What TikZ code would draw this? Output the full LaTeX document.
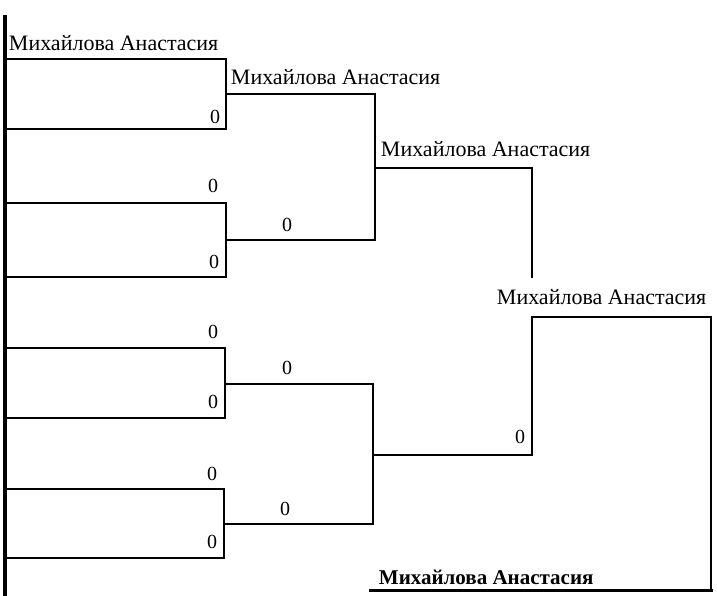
\documentclass[tikz,border=0pt]{standalone}
\usepackage{fontspec}
\setmainfont{Liberation Serif}
\begin{document}
\begin{tikzpicture}[x=1pt,y=-1pt,line width=1.9pt,line cap=rect,
  lbl/.style={anchor=base west,inner sep=0pt,font=\fontsize{22}{24}\selectfont},
  num/.style={anchor=center,inner sep=0pt,font=\fontsize{20}{22}\selectfont}]
\useasboundingbox (0,0) rectangle (717,596);
% left edge
\coordinate (Ltop) at (5,15);
\coordinate (Lbot) at (5,596);
\draw[line width=3.5pt,line cap=butt] (Ltop) -- (Lbot);
% first round end points
\coordinate (L1t) at (5,59);  \coordinate (L1b) at (5,129);
\coordinate (L2t) at (5,203); \coordinate (L2b) at (5,277);
\coordinate (L3t) at (5,348); \coordinate (L3b) at (5,418);
\coordinate (L4t) at (5,489); \coordinate (L4b) at (5,558);
\coordinate (R1) at (226,94);
\coordinate (R2) at (226,240);
\coordinate (R3) at (225,384);
\coordinate (R4) at (224,524);
\coordinate (S1) at (375,168);
\coordinate (S2) at (373,455);
\coordinate (T1) at (532,277);
\coordinate (T2) at (532,317);
\coordinate (F)  at (711,590);
\coordinate (B)  at (370,590);
\draw (L1t) -| (R1) |- (L1b);
\draw (L2t) -| (R2) |- (L2b);
\draw (L3t) -| (R3) |- (L3b);
\draw (L4t) -| (R4) |- (L4b);
\draw (R1) -| (S1) |- (R2);
\draw (R3) -| (S2) |- (R4);
\draw (S1) -| (T1);
\draw (S2) -| (T2) -| (F);
\draw[line width=3pt] (F) -- (B);
% names
\node[lbl] (n1) at (8,51) {Михайлова Анастасия};
\node[lbl] (n2) at (230,85) {Михайлова Анастасия};
\node[lbl] (n3) at (380,157) {Михайлова Анастасия};
\node[lbl] (n4) at (496,304) {Михайлова Анастасия};
\node[lbl,font=\fontsize{21}{24}\selectfont\bfseries] (n5) at (378,584) {Михайлова Анастасия};
% scores
\node[num] (z1b) at (215,117) {0};
\node[num] (z2t) at (213,186) {0};
\node[num] (z2b) at (214,262) {0};
\node[num] (z2m) at (287,225) {0};
\node[num] (z3t) at (213,332) {0};
\node[num] (z3b) at (213,402) {0};
\node[num] (z3m) at (287,368) {0};
\node[num] (z4t) at (212,474) {0};
\node[num] (z4b) at (212,542) {0};
\node[num] (z4m) at (285,509) {0};
\node[num] (zf) at (520,437) {0};
\end{tikzpicture}
\end{document}
